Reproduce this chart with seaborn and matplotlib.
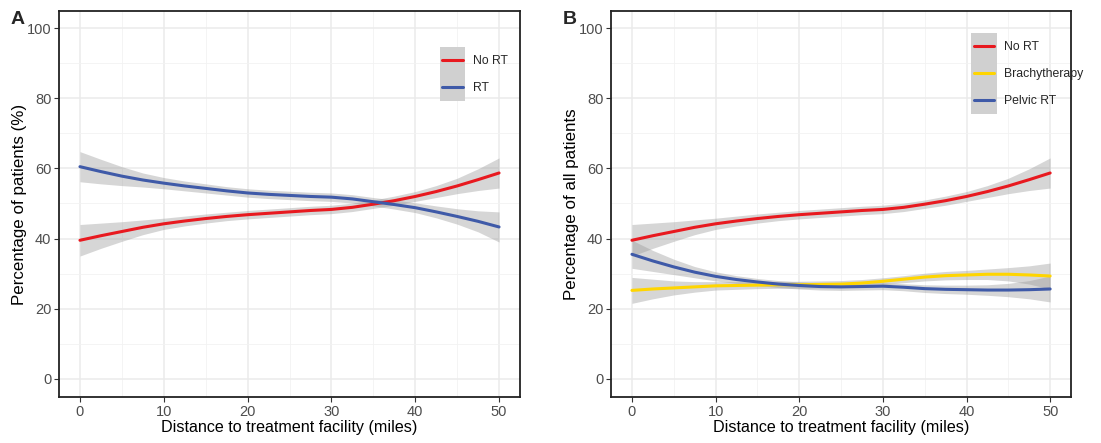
import matplotlib
matplotlib.use("Agg")
import matplotlib.pyplot as plt
import numpy as np
import pandas as pd
import seaborn as sns
from matplotlib.patches import Rectangle
from matplotlib.lines import Line2D

sns.set_style("white")
plt.rcParams["font.family"] = ["Liberation Sans", "DejaVu Sans"]

# distance (miles)
dist = [0, 2.5, 5, 7.5, 10, 12.5, 15, 17.5, 20, 22.5, 25, 27.5, 30,
        32.5, 35, 37.5, 40, 42.5, 45, 47.5, 50]

# smoothed percentages and half-widths of the confidence band
no_rt = [39.5, 40.8, 42.0, 43.2, 44.2, 45.0, 45.7, 46.3, 46.8, 47.2, 47.6,
         48.0, 48.3, 48.9, 49.8, 50.8, 52.0, 53.4, 55.0, 56.8, 58.7]
no_rt_se = [4.5, 3.6, 2.8, 2.1, 1.6, 1.4, 1.3, 1.2, 1.2, 1.2, 1.2,
            1.2, 1.2, 1.2, 1.2, 1.3, 1.4, 1.7, 2.2, 3.1, 4.3]
rt = [60.5, 59.1, 57.8, 56.7, 55.8, 55.0, 54.3, 53.6, 53.0, 52.6, 52.3,
      52.0, 51.8, 51.3, 50.5, 49.7, 48.8, 47.6, 46.3, 44.9, 43.3]
rt_se = [4.3, 3.5, 2.7, 2.0, 1.6, 1.4, 1.3, 1.2, 1.2, 1.2, 1.2,
         1.2, 1.2, 1.2, 1.2, 1.3, 1.4, 1.7, 2.2, 3.0, 4.3]
brachy = [25.2, 25.6, 25.9, 26.2, 26.5, 26.6, 26.7, 26.8, 26.8, 26.9, 27.0,
          27.3, 27.8, 28.4, 29.0, 29.4, 29.6, 29.8, 29.8, 29.6, 29.3]
brachy_se = [3.7, 2.8, 2.0, 1.5, 1.2, 1.1, 1.0, 1.0, 1.0, 1.0, 1.0,
             1.0, 1.0, 1.0, 1.1, 1.2, 1.3, 1.5, 1.9, 2.6, 3.7]
pelvic = [35.5, 33.6, 31.9, 30.4, 29.2, 28.3, 27.6, 27.0, 26.6, 26.3, 26.2,
          26.3, 26.4, 26.1, 25.7, 25.5, 25.4, 25.3, 25.3, 25.4, 25.6]
pelvic_se = [4.0, 3.0, 2.2, 1.6, 1.3, 1.1, 1.0, 1.0, 1.0, 1.0, 1.0,
             1.0, 1.0, 1.0, 1.1, 1.2, 1.3, 1.5, 1.9, 2.6, 3.7]

colors = {"No RT": "#E8191F", "RT": "#3F5AA8", "Brachytherapy": "#FFD500",
          "Pelvic RT": "#3F5AA8"}

panel_a = {"No RT": (no_rt, no_rt_se), "RT": (rt, rt_se)}
panel_b = {"No RT": (no_rt, no_rt_se), "Brachytherapy": (brachy, brachy_se),
           "Pelvic RT": (pelvic, pelvic_se)}


class SmoothKey:
    # ggplot-style key: grey se box with the line centred on it
    def legend_artist(self, legend, orig_handle, fontsize, handlebox):
        x0, y0 = handlebox.xdescent, handlebox.ydescent
        w, h = handlebox.width, handlebox.height
        tr = handlebox.get_transform()
        rect = Rectangle((-x0, -y0), w, h, facecolor="#D0D0D0",
                         edgecolor="none", transform=tr)
        line = Line2D([-x0 + 0.1 * w, -x0 + 0.9 * w], [-y0 + h / 2] * 2,
                      color=orig_handle.get_color(), linewidth=2.2,
                      transform=tr)
        handlebox.add_artist(rect)
        handlebox.add_artist(line)
        return line


fig = plt.figure(figsize=(11.01, 4.43), dpi=100)
ax1 = fig.add_axes([0.0536, 0.104, 0.4187, 0.871])
ax2 = fig.add_axes([0.555, 0.104, 0.4178, 0.871])


def draw(ax, series, ylabel, letter, legend_pos):
    rows = []
    for name, (vals, se) in series.items():
        for d, v, s in zip(dist, vals, se):
            rows.append([name, d, v, s])
    df = pd.DataFrame(rows, columns=["group", "dist", "pct", "se"])

    # grid like ggplot theme_bw
    ax.set_xlim(-2.5, 52.5)
    ax.set_ylim(-5.2, 104.9)
    ax.set_xticks([0, 10, 20, 30, 40, 50])
    ax.set_yticks([0, 20, 40, 60, 80, 100])
    ax.set_xticks(np.arange(5, 50, 10), minor=True)
    ax.set_yticks(np.arange(10, 100, 20), minor=True)
    ax.grid(which="major", color="#EBEBEB", linewidth=1.1, zorder=0)
    ax.grid(which="minor", color="#F2F2F2", linewidth=0.6, zorder=0)
    ax.set_axisbelow(True)

    for name in series:
        sub = df[df.group == name]
        ax.fill_between(sub.dist, sub.pct - sub.se, sub.pct + sub.se,
                        color="#999999", alpha=0.4, linewidth=0, zorder=2)
    sns.lineplot(data=df, x="dist", y="pct", hue="group", palette=colors,
                 linewidth=2.2, ax=ax, legend=False, zorder=3)

    for sp in ax.spines.values():
        sp.set_color("#222222")
        sp.set_linewidth(1.3)
    ax.tick_params(axis="both", which="major", length=3.5, width=0.8,
                   color="#333333", labelsize=10.5, labelcolor="#4D4D4D",
                   bottom=True, left=True, pad=2)
    ax.tick_params(axis="both", which="minor", length=0)
    ax.set_xlabel("Distance to treatment facility (miles)", fontsize=11.6,
                  color="black", labelpad=1)
    ax.set_ylabel(ylabel, fontsize=12.2, color="black", labelpad=0)
    ax.text(-0.09, 0.979, letter, transform=ax.transAxes, fontsize=14,
            fontweight="bold", va="center", ha="center")

    handles = [Line2D([], [], color=colors[n]) for n in series]
    ax.legend(handles, list(series.keys()), loc="upper left",
              bbox_to_anchor=legend_pos, frameon=False, fontsize=8.8,
              handler_map={Line2D: SmoothKey()},
              handlelength=2.1, handleheight=3.0, labelspacing=0,
              handletextpad=0.6, borderpad=0, borderaxespad=0)


draw(ax1, panel_a, "Percentage of patients (%)", "A", (0.826, 0.907))
draw(ax2, panel_b, "Percentage of all patients", "B", (0.783, 0.943))

fig.savefig("out.png", dpi=100)
